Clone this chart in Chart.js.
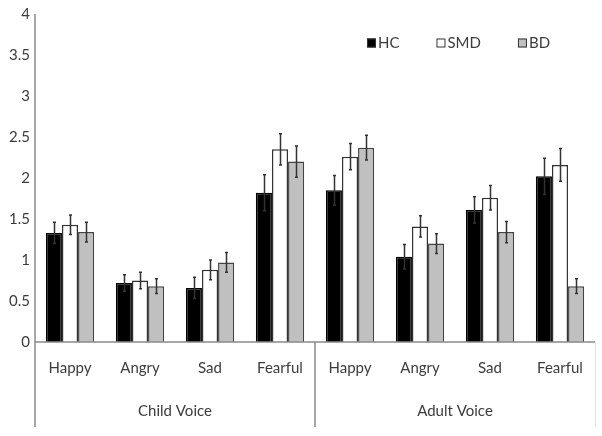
<!DOCTYPE html>
<html>
<head>
<meta charset="utf-8">
<script src="https://cdn.jsdelivr.net/npm/chart.js@4/dist/chart.umd.min.js"></script>
<style>
  html, body { margin: 0; padding: 0; background: #fff; }
  #wrap { width: 602px; height: 436px; position: relative; }
</style>
</head>
<body>
<div id="wrap"><canvas id="c" width="602" height="436"></canvas></div>
<script>
const categories = ["Happy", "Angry", "Sad", "Fearful", "Happy", "Angry", "Sad", "Fearful"];
const groups = ["Child Voice", "Adult Voice"];
const seriesNames = ["HC", "SMD", "BD"];
const hcValues  = [1.33, 0.72, 0.66, 1.82, 1.85, 1.04, 1.61, 2.02];
const smdValues = [1.43, 0.75, 0.88, 2.35, 2.26, 1.41, 1.76, 2.16];
const bdValues  = [1.34, 0.68, 0.97, 2.20, 2.37, 1.20, 1.34, 0.68];
const hcErrors  = [0.13, 0.10, 0.13, 0.22, 0.18, 0.15, 0.16, 0.22];
const smdErrors = [0.12, 0.10, 0.12, 0.19, 0.16, 0.13, 0.15, 0.20];
const bdErrors  = [0.12, 0.09, 0.12, 0.19, 0.15, 0.12, 0.13, 0.09];
const yTicks = [0, 0.5, 1, 1.5, 2, 2.5, 3, 3.5, 4];
const yTickLabels = ["0", "0.5", "1", "1.5", "2", "2.5", "3", "3.5", "4"];

const FONT = "Lato, 'Open Sans', sans-serif";
const TEXT = "#3c3c3c";
const AXIS = "#8a8a8a";

const errorPlugin = {
  id: "errorBars",
  afterDatasetsDraw(chart) {
    const ctx = chart.ctx;
    const y = chart.scales.y;
    ctx.save();
    ctx.strokeStyle = "#333";
    ctx.lineWidth = 1.5;
    chart.data.datasets.forEach((ds, di) => {
      const meta = chart.getDatasetMeta(di);
      meta.data.forEach((bar, i) => {
        const v = ds.data[i], e = ds.errors[i];
        const x = Math.round(bar.x) + 0.5;
        const yTop = y.getPixelForValue(v + e);
        const yBot = y.getPixelForValue(v - e);
        ctx.beginPath();
        ctx.moveTo(x, yTop); ctx.lineTo(x, yBot);
        ctx.moveTo(x - 1.5, yTop); ctx.lineTo(x + 1.5, yTop);
        ctx.moveTo(x - 1.5, yBot); ctx.lineTo(x + 1.5, yBot);
        ctx.stroke();
      });
    });
    ctx.restore();
  }
};

const framePlugin = {
  id: "frame",
  afterDraw(chart) {
    const ctx = chart.ctx;
    const a = chart.chartArea;
    const xs = chart.scales.x;
    const bottom = 427;
    ctx.save();
    ctx.strokeStyle = AXIS;
    ctx.lineWidth = 1.5;
    ctx.beginPath();
    ctx.moveTo(a.left, a.top); ctx.lineTo(a.left, bottom);
    ctx.stroke();
    ctx.beginPath();
    ctx.moveTo(a.left, a.bottom); ctx.lineTo(a.right, a.bottom);
    ctx.stroke();
    const sep = (xs.getPixelForValue(3) + xs.getPixelForValue(4)) / 2;
    ctx.beginPath();
    ctx.moveTo(sep, a.bottom); ctx.lineTo(sep, bottom);
    ctx.stroke();
    ctx.strokeStyle = "#e2e2e2";
    ctx.lineWidth = 1;
    ctx.beginPath();
    ctx.moveTo(a.right + 0.5, a.bottom); ctx.lineTo(a.right + 0.5, bottom);
    ctx.stroke();
    ctx.fillStyle = TEXT;
    ctx.font = "15px " + FONT;
    ctx.textAlign = "center";
    ctx.textBaseline = "middle";
    const c1 = (xs.getPixelForValue(0) + xs.getPixelForValue(3)) / 2;
    const c2 = (xs.getPixelForValue(4) + xs.getPixelForValue(7)) / 2;
    ctx.fillText(groups[0], c1, 411);
    ctx.fillText(groups[1], c2, 411);
    ctx.textAlign = "left";
    let lx = 367;
    const ly = 43;
    chart.data.datasets.forEach((ds) => {
      ctx.fillStyle = ds.backgroundColor;
      ctx.fillRect(lx, ly - 4.5, 9, 9);
      ctx.strokeStyle = "#333";
      ctx.lineWidth = 1;
      ctx.strokeRect(lx + 0.5, ly - 4, 8, 8);
      ctx.fillStyle = TEXT;
      ctx.fillText(ds.label, lx + 11, ly);
      lx += 11 + ctx.measureText(ds.label).width + 37;
    });
    ctx.restore();
  }
};

new Chart(document.getElementById("c"), {
  type: "bar",
  data: {
    labels: categories,
    datasets: [
      { label: seriesNames[0], data: hcValues, errors: hcErrors, backgroundColor: "#000000", borderColor: "#000000", borderWidth: 1.5 },
      { label: seriesNames[1], data: smdValues, errors: smdErrors, backgroundColor: "#ffffff", borderColor: "#333333", borderWidth: 1.5 },
      { label: seriesNames[2], data: bdValues, errors: bdErrors, backgroundColor: "#c0c0c0", borderColor: "#444444", borderWidth: 1.5 }
    ]
  },
  options: {
    responsive: false,
    animation: false,
    devicePixelRatio: 1,
    layout: { padding: { left: 0, right: 7, top: 4, bottom: 0 } },
    datasets: { bar: { categoryPercentage: 0.69, barPercentage: 1.0 } },
    plugins: { legend: { display: false }, tooltip: { enabled: false } },
    scales: {
      x: {
        grid: { display: false, drawTicks: false },
        border: { display: false },
        ticks: { color: TEXT, font: { family: FONT, size: 15 }, padding: 17, maxRotation: 0 },
        afterFit(s) { s.height = 94; }
      },
      y: {
        min: 0, max: 4,
        grid: { display: false, drawTicks: false },
        border: { display: false },
        afterBuildTicks(s) { s.ticks = yTicks.map(v => ({ value: v })); },
        ticks: {
          color: TEXT, font: { family: FONT, size: 15 }, padding: 5,
          callback(value) { const i = yTicks.indexOf(value); return i >= 0 ? yTickLabels[i] : ""; }
        },
        afterFit(s) { s.width = 35; }
      }
    }
  },
  plugins: [errorPlugin, framePlugin]
});
</script>
</body>
</html>
